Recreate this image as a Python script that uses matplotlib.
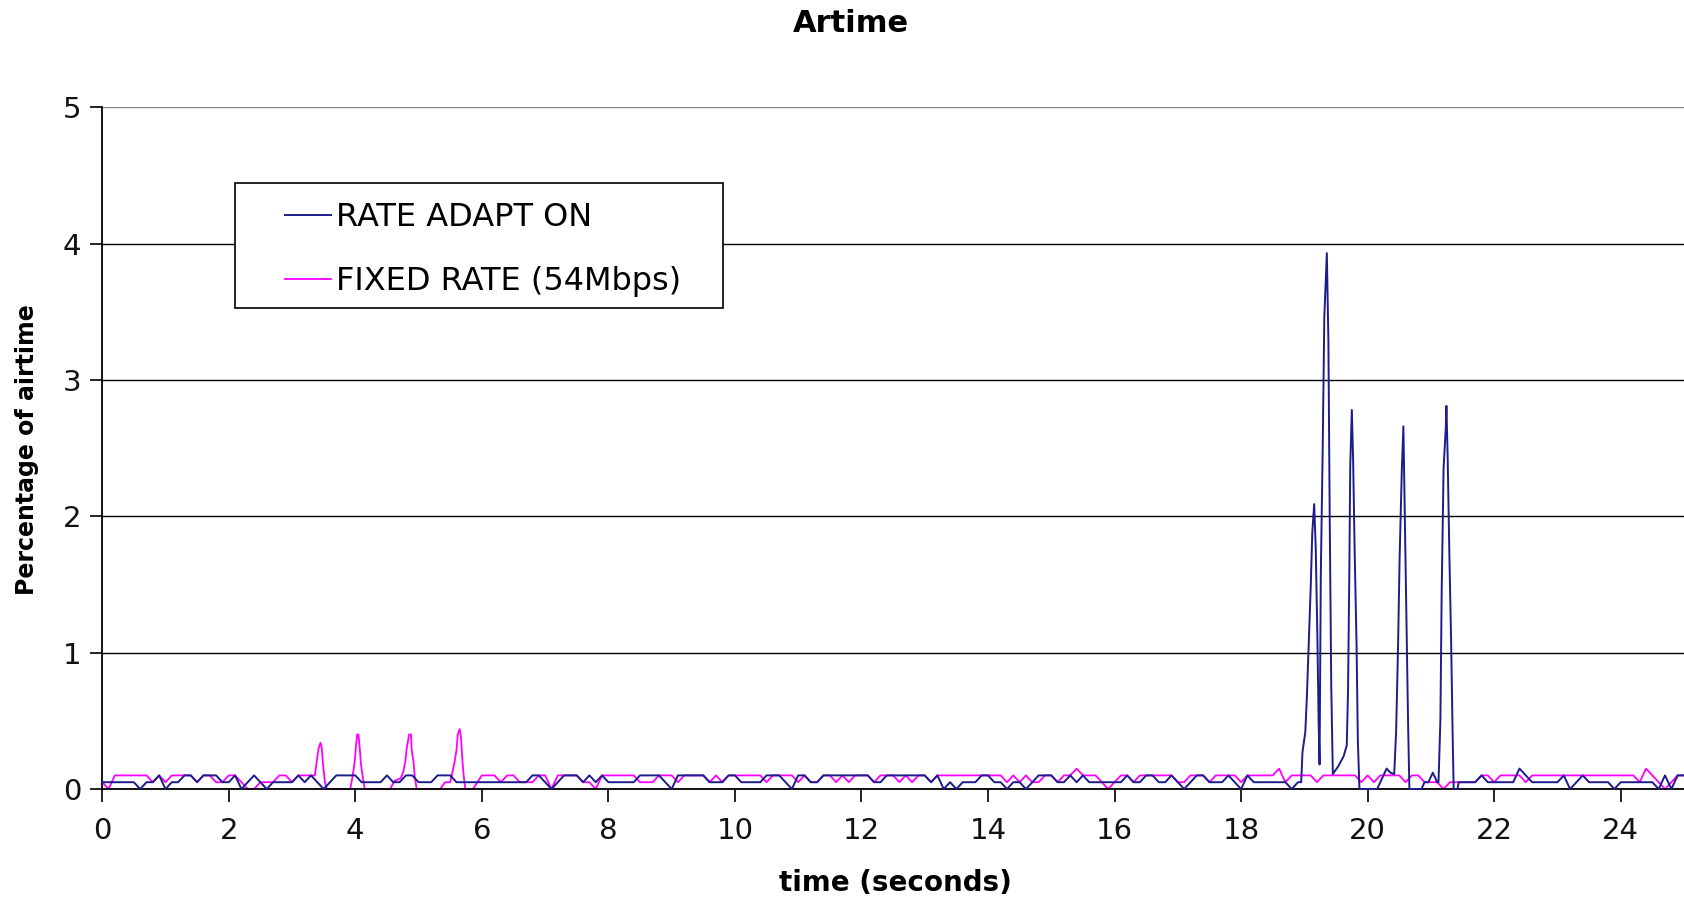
import numpy as np
import matplotlib
matplotlib.use("Agg")
import matplotlib.pyplot as plt
from matplotlib.patches import Rectangle

plt.rcParams['font.family'] = ['DejaVu Sans']

# sampled every 0.1 s (percent of airtime)
rate_base_a = [  # 0.0 .. 18.9 s
    .05, .05, .05, .05, .05, .05, 0, .05, .05, .1,
    0, .05, .05, .1, .1, .05, .1, .1, .1, .05,
    .05, .1, 0, .05, .1, .05, 0, .05, .05, .05,
    .05, .1, .05, .1, .05, 0, .05, .1, .1, .1,
    .1, .05, .05, .05, .05, .1, .05, .05, .1, .1,
    .05, .05, .05, .1, .1, .1, .05, .05, .05, .05,
    .05, .05, .05, .05, .05, .05, .05, .05, .1, .1,
    .05, 0, .05, .1, .1, .1, .05, .1, .05, .1,
    .05, .05, .05, .05, .05, .1, .1, .1, .1, .05,
    0, .1, .1, .1, .1, .1, .05, .05, .05, .1,
    .1, .05, .05, .05, .05, .1, .1, .1, .05, 0,
    .1, .1, .05, .05, .1, .1, .1, .1, .1, .1,
    .1, .1, .05, .05, .1, .1, .1, .1, .1, .1,
    .1, .05, .1, 0, .05, 0, .05, .05, .05, .1,
    .1, .05, .05, 0, .05, .05, 0, .05, .1, .1,
    .1, .05, .05, .1, .05, .1, .05, .05, .05, .05,
    .05, .05, .1, .05, .05, .1, .1, .05, .05, .1,
    .05, 0, .05, .1, .1, .05, .05, .05, .1, .05,
    0, .1, .05, .05, .05, .05, .05, .05, 0, .05,
]
rate_base_b = [  # 21.5 .. 25.0 s
    .05, .05, .05, .1, .05,
    .05, .05, .05, .05, .15, .1, .05, .05, .05, .05,
    .05, .1, 0, .05, .1, .05, .05, .05, .05, 0,
    .05, .05, .05, .05, .05, .05, 0, .1, 0, .1, .1,
]
# the burst between 19 and 21.5 s, read point by point
rate_burst_t = [18.95, 18.97, 19.015, 19.04, 19.07, 19.10, 19.125, 19.155, 19.18, 19.205,
                19.225, 19.24, 19.26, 19.29, 19.315, 19.355, 19.38, 19.40, 19.425, 19.45,
                19.54, 19.62, 19.67, 19.69, 19.71, 19.725, 19.75, 19.77, 19.795, 19.825,
                19.845, 19.87, 20.15, 20.30, 20.36, 20.42, 20.45, 20.48, 20.505, 20.54,
                20.565, 20.58, 20.61, 20.64, 20.66, 20.85, 20.90, 20.96, 21.03, 21.10,
                21.12, 21.15, 21.17, 21.20, 21.235, 21.245, 21.265, 21.29, 21.32, 21.345,
                21.36, 21.42, 21.44]
rate_burst_v = [.05, .27, .42, .68, 1.08, 1.48, 1.88, 2.09, 1.76, 1.13,
                .50, .18, 1.58, 2.51, 3.46, 3.93, 3.28, 2.02, .75, .11,
                .17, .24, .32, .72, 1.56, 2.37, 2.78, 2.43, 1.74, 1.05,
                .36, 0, 0, .15, .12, .11, .42, 1.03, 1.69, 2.34,
                2.66, 2.22, 1.34, .46, 0, 0, .05, .05, .12, .05,
                .05, .51, 1.44, 2.35, 2.65, 2.81, 2.43, 1.76, 1.07, .35,
                0, 0, .05]

fixed_base_a = [  # 0.0 .. 3.2 s
    .05, 0, .1, .1, .1, .1, .1, .1, .05, .1,
    .05, .1, .1, .1, .1, .05, .1, .1, .05, .05,
    .1, .1, .05, 0, 0, .05, .05, .05, .1, .1,
    .05, .1, .1,
]
fixed_base_b = [  # 6.1 .. 25.0 s
    .1, .1, .05, .1, .1, .05, .05, .05, .1,
    .1, 0, .1, .1, .1, .1, .05, .05, 0, .1,
    .1, .1, .1, .1, .1, .05, .05, .05, .1, .1,
    .1, .05, .1, .1, .1, .1, .05, .1, .05, .1,
    .1, .1, .1, .1, .1, .05, .1, .1, .1, .1,
    .05, .1, .05, .05, .1, .1, .05, .1, .05, .1,
    .1, .1, .05, .1, .1, .1, .05, .1, .05, .1,
    .1, .05, .1, .1, .1, .1, .1, .1, .1, .1,
    .1, .1, .1, .05, .1, .05, .1, .05, .05, .1,
    .1, .05, .1, .1, .15, .1, .1, .1, .05, 0,
    .05, .1, .1, .05, .1, .1, .1, .1, .1, .1,
    .05, .05, .1, .1, .1, .05, .1, .1, .1, .1,
    .05, .1, .1, .1, .1, .1, .15, .05, .1, .1,
    .1, .1, .05, .1, .1, .1, .1, .1, .1, .05,
    .1, .05, .1, .1, .1, .1, .05, .1, .1, .05,
    .05, .05, 0, .05, .05, .05, .05, .05, .1, .1,
    .05, .1, .1, .1, .1, .05, .1, .1, .1, .1,
    .1, .1, .1, .1, .1, .1, .1, .1, .1, .1,
    .1, .1, .1, .05, .15, .1, .05, 0, .05, .1, .1,
]
fixed_burst_t = [3.30, 3.36, 3.39, 3.42, 3.45, 3.47, 3.49, 3.52, 3.55, 3.92,
                 3.96, 3.99, 4.01, 4.03, 4.05, 4.07, 4.09, 4.12, 4.15, 4.55,
                 4.62, 4.72, 4.76, 4.79, 4.81, 4.85, 4.88, 4.89, 4.92, 4.94,
                 4.97, 5.34, 5.42, 5.50, 5.57, 5.60, 5.62, 5.65, 5.67, 5.69,
                 5.71, 5.74, 5.86, 6.0]
fixed_burst_v = [.1, .1, .2, .3, .34, .3, .18, .05, 0, 0,
                 .1, .2, .31, .40, .40, .3, .18, .08, 0, 0,
                 .06, .08, .13, .2, .29, .4, .4, .29, .2, .09,
                 0, 0, .05, .05, .2, .29, .4, .44, .38, .23,
                 .11, 0, 0, .1]

labels = ["RATE ADAPT ON", "FIXED RATE (54Mbps)"]


def join(start_a, base_a, burst_t, burst_v, start_b, base_b):
    t = np.concatenate([start_a + 0.1 * np.arange(len(base_a)), burst_t,
                        start_b + 0.1 * np.arange(len(base_b))])
    v = np.concatenate([base_a, burst_v, base_b])
    return t, v


rate_t, rate_v = join(0.0, rate_base_a, rate_burst_t, rate_burst_v, 21.5, rate_base_b)
fixed_t, fixed_v = join(0.0, fixed_base_a, fixed_burst_t, fixed_burst_v, 6.1, fixed_base_b)

fig = plt.figure(figsize=(16.84, 9), dpi=100)
ax = fig.add_axes([0.0607, 0.1233, 0.9393, 0.7575])

ax.plot(rate_t, rate_v, color='#1c1c8a', lw=1.4, label=labels[0], zorder=3, clip_on=False)
ax.plot(fixed_t, fixed_v, color='#ff00ff', lw=1.3, label=labels[1], zorder=2, clip_on=False)

ax.set_xlim(0, 25)
ax.set_ylim(0, 5)
ax.set_xticks(np.arange(0, 25, 2))
ax.set_yticks(range(6))
ax.yaxis.grid(True, color='black', lw=1.0)
ax.get_ygridlines()[-1].set_color('#8a8a8a')
ax.set_axisbelow(True)
for s in ['top', 'right']:
    ax.spines[s].set_visible(False)
ax.spines['left'].set_linewidth(1.3)
ax.spines['bottom'].set_linewidth(1.3)
ax.tick_params(axis='both', direction='out', length=9, width=1.3, labelsize=21, colors='#111111')
ax.tick_params(axis='x', pad=11)
ax.tick_params(axis='y', pad=6)

# legend box
ax.add_patch(Rectangle((0.0839, 0.7056), 0.3085, 0.1834, transform=ax.transAxes,
                       facecolor='white', edgecolor='black', lw=1.2, zorder=4))
ax.legend(loc='upper left', bbox_to_anchor=(0.1155, 0.861), frameon=False,
          fontsize=23, borderpad=0, handlelength=1.45, handletextpad=0.15,
          labelspacing=1.03, borderaxespad=0)

fig.text(0.505, 0.974, "Artime", ha='center', va='center', fontsize=22, fontweight='bold')
fig.text(0.532, 0.019, "time (seconds)", ha='center', va='center', fontsize=20, fontweight='bold')
fig.text(0.016, 0.5, "Percentage of airtime", ha='center', va='center', rotation=90,
         fontsize=17, fontweight='bold')

fig.savefig("out.png", dpi=100)
